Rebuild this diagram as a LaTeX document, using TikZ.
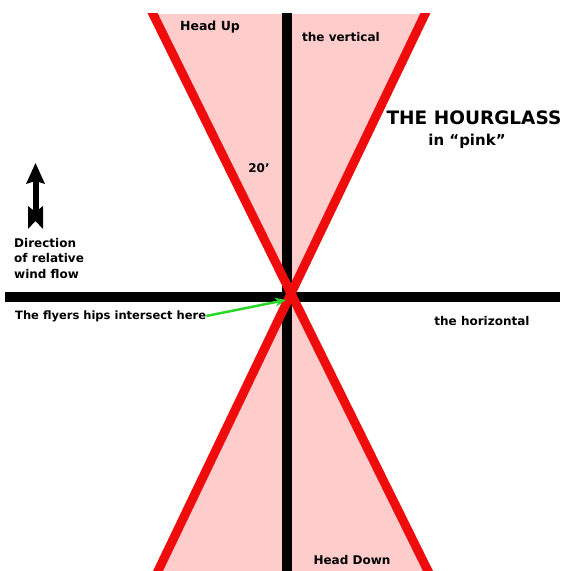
\documentclass[tikz,border=0pt]{standalone}
\usepackage{fontspec}
\setmainfont{DejaVu Sans}
\usetikzlibrary{arrows.meta,calc}
\definecolor{hgpink}{RGB}{255,204,204}
\definecolor{hgred}{RGB}{238,12,12}
\definecolor{hggreen}{RGB}{40,215,40}
\tikzset{
  lbl/.style={font=\bfseries\fontsize{12}{14}\selectfont, inner sep=0pt, text=black},
  axis/.style={line width=10pt, black},
  edge/.style={line width=9pt, hgred},
}
\begin{document}
\begin{tikzpicture}[x=1pt,y=-1pt]
\fill[white] (0,0) rectangle (565,571);
\useasboundingbox (0,0) rectangle (565,571);
\coordinate (X) at (292,296);
\coordinate (TL) at (153,14);
\coordinate (TR) at (425,14);
\coordinate (BL) at (158,571);
\coordinate (BR) at (428,571);
% pink hourglass
\fill[hgpink] (TL) -- (TR) -- (X) -- cycle;
\fill[hgpink] (X) -- (BL) -- (BR) -- cycle;
% axes
\coordinate (VT) at (287,13);
\coordinate (VB) at (287,571);
\coordinate (HL) at (5,297);
\coordinate (HR) at (560,297);
\draw[axis] (VT) -- (VB);
\draw[axis] (HL) -- (HR);
% red edges
\begin{scope}
\clip (0,13) rectangle (565,571);
\draw[edge] ($(TL)!-0.05!(BR)$) -- ($(TL)!1.05!(BR)$);
\draw[edge] ($(TR)!-0.05!(BL)$) -- ($(TR)!1.05!(BL)$);
\end{scope}
% labels
\node[lbl, font=\bfseries\fontsize{12.5}{14}\selectfont] (headup) at (210,27) {Head Up};
\node[lbl] (vert) at (341,37) {the vertical};
\node[lbl] (deg) at (259,168) {20’};
\node[font=\bfseries\fontsize{18.5}{20}\selectfont, inner sep=0pt] (title) at (474,118) {THE HOURGLASS};
\node[font=\bfseries\fontsize{15}{17}\selectfont, inner sep=0pt] (pink) at (467,141) {in “pink”};
\node[lbl, align=left, anchor=north west, font=\bfseries\fontsize{12}{15.5}\selectfont] (dir) at (14,238) {Direction\\of relative\\wind flow};
\node[lbl, anchor=west, font=\bfseries\fontsize{11.5}{13}\selectfont] (hips) at (15,316) {The flyers hips intersect here};
\node[lbl] (horiz) at (482,321) {the horizontal};
\node[lbl] (headdown) at (352,560) {Head Down};
% wind arrow
\fill[black] (35.5,163) -- (45,184) -- (35.5,181) -- (26,184) -- cycle;
\fill[black] (33,180) rectangle (38.5,212);
\fill[black] (28,206) -- (35.5,212) -- (43,206) -- (43,229) -- (35.5,221) -- (28,229) -- cycle;
% green pointer
\coordinate (hipend) at (286,300);
\draw[hggreen, line width=2.5pt, -{Stealth[length=11pt,width=9pt]}] (hips.east) -- (hipend);
\end{tikzpicture}
\end{document}
